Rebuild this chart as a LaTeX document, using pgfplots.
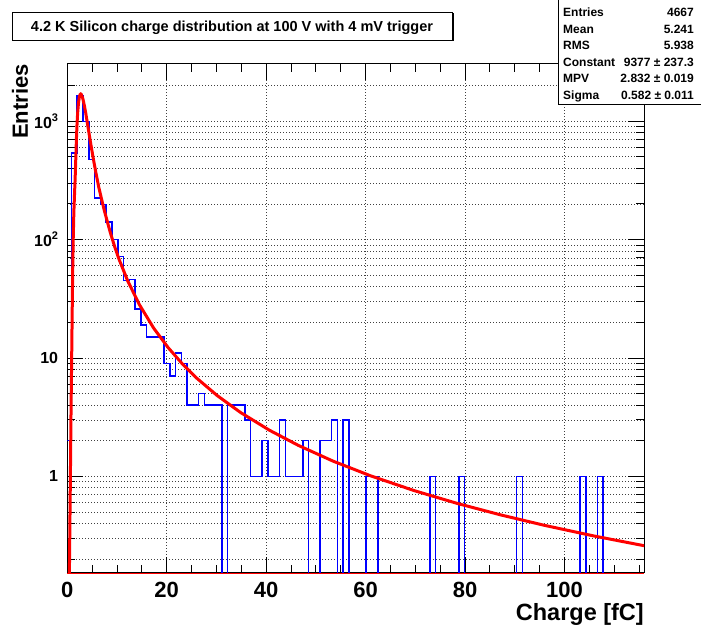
\documentclass[border=0pt]{standalone}
\usepackage{fontspec}
\setmainfont{Liberation Sans}
\usepackage{pgfplots}
\pgfplotsset{compat=1.18}
\newcommand{\sups}[1]{\raisebox{0.42em}{\fontsize{11bp}{11bp}\selectfont #1}}
\begin{document}
\begin{tikzpicture}[x=1bp,y=1bp]
\useasboundingbox (0,0) rectangle (701,626);
\fill[white] (0,0) rectangle (701,626);
\begin{axis}[
  at={(67.3bp,53bp)}, anchor=south west,
  scale only axis, width=576.7bp, height=509bp,
  xmin=0, xmax=116, ymode=log, ymin=0.1526, ymax=3035,
  xtick={0,20,40,60,80,100},
  xticklabels={0,20,40,60,80,100},
  minor xtick={5,10,15,25,30,35,45,50,55,65,70,75,85,90,95,105,110,115},
  ytick={1,10,100,1000},
  yticklabels={1,10,{10\sups{2}},{10\sups{3}}},
  minor ytick={0.2,0.3,0.4,0.5,0.6,0.7,0.8,0.9,2,3,4,5,6,7,8,9,20,30,40,50,60,70,80,90,200,300,400,500,600,700,800,900,2000},
  tick align=inside, major tick length=16bp, minor tick length=8bp,
  tick style={black, line width=0.8bp},
  axis line style={black, line width=1bp},
  xmajorgrids, ymajorgrids, yminorgrids,
  major grid style={black!75, line width=0.6bp, dash pattern=on 1bp off 2bp},
  minor grid style={black!75, line width=0.6bp, dash pattern=on 1bp off 2bp},
  xticklabel style={font=\bfseries\fontsize{22bp}{22bp}\selectfont, inner sep=0pt, anchor=north, yshift=-8.5bp},
  yticklabel style={font=\bfseries\fontsize{16bp}{16bp}\selectfont, inner sep=0pt, anchor=east, xshift=-9bp},
  xlabel={Charge [fC]},
  xlabel style={at={(axis description cs:1,0)}, anchor=north east, inner sep=0pt, yshift=-30bp, font=\bfseries\fontsize{23.5bp}{23.5bp}\selectfont},
  ylabel={Entries},
  ylabel style={at={(axis description cs:-0.0964,1)}, anchor=north east, inner sep=0pt, font=\bfseries\fontsize{22bp}{22bp}\selectfont},
]
\addplot[blue, line width=1.6bp, const plot] coordinates {
(-0.3176,2) (0.845,535) (2.0076,1640) (3.1702,990) (4.3328,475) (5.4954,223)
(6.658,198) (7.8206,141) (8.9832,100) (10.1458,72) (11.3084,45) (12.471,46)
(13.6336,26) (14.7962,19) (15.9588,15) (17.1214,15) (18.284,15) (19.4466,9)
(20.6092,7) (21.7718,11) (22.9344,9) (24.097,4) (25.2596,4) (26.4222,5)
(27.5848,4) (28.7474,4) (29.91,4) (31.0726,0.01) (32.2352,4) (33.3978,4)
(34.5604,4) (35.723,3) (36.8856,1) (38.0482,1) (39.2108,2) (40.3734,1)
(41.536,1) (42.6986,3) (43.8612,1) (45.0238,1) (46.1864,1) (47.349,2)
(48.5116,0.01) (49.6742,0.01) (50.8368,2) (51.9994,2) (53.162,3) (54.3246,0.01)
(55.4872,3) (56.6498,0.01) (60.1376,1) (61.3002,1) (62.4628,0.01)
(72.9262,1) (74.0888,0.01) (78.7392,1) (79.9018,0.01) (90.3652,1) (91.5278,0.01)
(103.1538,1) (104.3164,0.01) (106.6416,1) (107.8042,0.01) (117.105,0.01)
};
\addplot[red, line width=3bp] coordinates {
(0.30,0.05) (0.35,0.08) (0.45,0.2) (0.60,0.8) (0.75,3.5) (0.88,10) (1.00,28)
(1.10,60) (1.20,105) (1.32,170) (1.45,240) (1.58,330) (1.726,508.8)
(1.843,722.8) (1.959,945.9)
(2.075,1158) (2.250,1423) (2.425,1599) (2.570,1675) (2.704,1693) (2.832,1677)
(3.123,1549) (3.414,1362) (3.705,1172) (3.996,984) (4.287,829) (4.578,697)
(4.869,590) (5.160,500) (5.451,429) (5.742,368) (6.324,277) (6.906,218)
(7.488,173) (8.652,114.3) (9.525,87.1) (10.398,68.2) (12.144,44.79) (14.472,28.30)
(17.382,17.82) (20.292,12.20) (23.202,8.846) (26.112,6.70) (30.186,4.795)
(34.842,3.462) (40.662,2.450) (46.482,1.824) (53.466,1.343) (61.032,1.009)
(69.762,0.7576) (78.492,0.5895) (87.222,0.4717) (95.952,0.3858) (105.846,0.3140)
(116.322,0.2579)
};
\end{axis}
\draw[red, line width=1.2bp] (67.3,52.6) -- (644,52.6);
% title box
\fill[black] (13.5,584.5) rectangle (453.5,612.5);
\filldraw[fill=white, draw=black, line width=0.8bp] (12,586) rectangle (452,614);
\node[anchor=base, inner sep=0pt, font=\bfseries\fontsize{14.5bp}{14.5bp}\selectfont] at (232,594.8) {4.2 K Silicon charge distribution at 100 V with 4 mV trigger};
% stats box
\filldraw[fill=white, draw=black, line width=0.8bp] (558,522) rectangle (720,640);
\begin{scope}[every node/.style={inner sep=0pt, font=\bfseries\fontsize{12bp}{12bp}\selectfont}]
\node[anchor=base west] at (563,609.2) {Entries};
\node[anchor=base east] at (694,609.2) {4667};
\node[anchor=base west] at (563,592.7) {Mean};
\node[anchor=base east] at (694,592.7) {5.241};
\node[anchor=base west] at (563,576.2) {RMS};
\node[anchor=base east] at (694,576.2) {5.938};
\node[anchor=base west] at (563,559.7) {Constant};
\node[anchor=base east] at (694,559.7) {9377 ± 237.3};
\node[anchor=base west] at (563,543.2) {MPV};
\node[anchor=base east] at (694,543.2) {2.832 ± 0.019};
\node[anchor=base west] at (563,526.7) {Sigma};
\node[anchor=base east] at (694,526.7) {0.582 ± 0.011};
\end{scope}
\end{tikzpicture}
\end{document}
